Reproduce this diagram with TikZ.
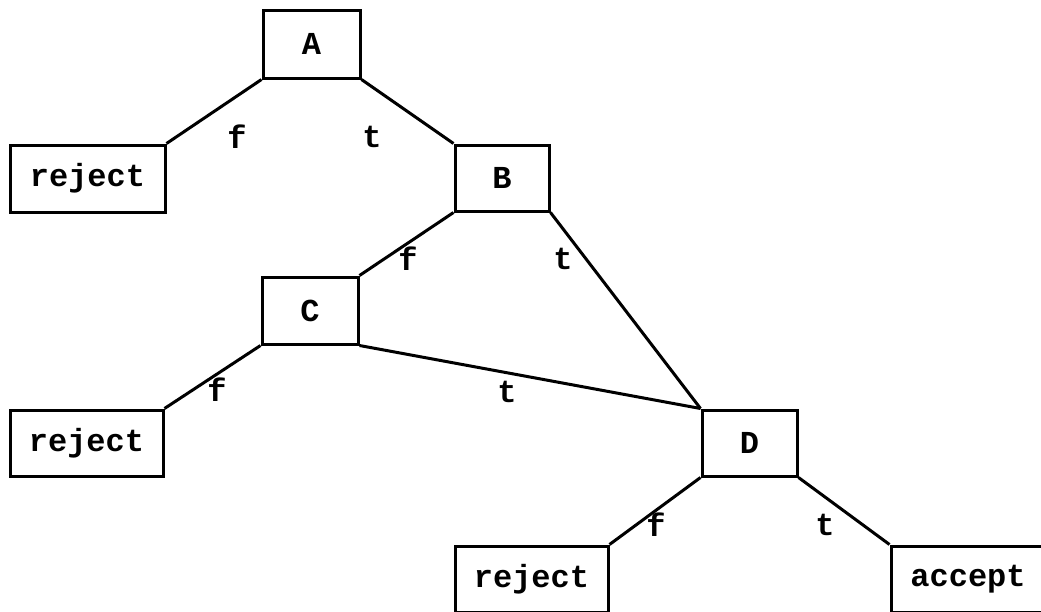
\documentclass[tikz,border=0pt]{standalone}
\usepackage{fontspec}
\setmonofont{Liberation Mono}
\begin{document}
\begin{tikzpicture}[x=1pt,y=-1pt,
  box/.style={draw,line width=3pt,rectangle,inner sep=0pt,font=\ttfamily\bfseries\fontsize{32}{32}\selectfont},
  edge/.style={line width=3pt},
  lbl/.style={font=\ttfamily\bfseries\fontsize{32}{32}\selectfont,inner sep=0pt}]
\useasboundingbox (0,0) rectangle (1041,611);
\node[box,minimum width=97pt,minimum height=68pt] (A) at (311.5,44) {A};
\node[box,minimum width=94pt,minimum height=66pt] (B) at (502,178) {B};
\node[box,minimum width=96pt,minimum height=67pt] (C) at (310,310.5) {C};
\node[box,minimum width=95pt,minimum height=66pt] (D) at (749.5,443) {D};
\node[box,minimum width=155pt,minimum height=67pt] (R1) at (87.5,178.5) {reject};
\node[box,minimum width=153pt,minimum height=66pt] (R2) at (86.5,443) {reject};
\node[box,minimum width=153pt,minimum height=66pt] (R3) at (531.5,579) {reject};
\node[box,minimum width=154pt,minimum height=66pt] (ACC) at (968,579) {accept};
\draw[edge] (A.south west) -- (R1.north east);
\draw[edge] (A.south east) -- (B.north west);
\draw[edge] (B.south west) -- (C.north east);
\draw[edge] (B.south east) -- (D.north west);
\draw[edge] (C.south east) -- (D.north west);
\draw[edge] (C.south west) -- (R2.north east);
\draw[edge] (D.south west) -- (R3.north east);
\draw[edge] (D.south east) -- (ACC.north west);
\node[lbl] (l1) at (237,137) {f};
\node[lbl] (l2) at (372,137) {t};
\node[lbl] (l3) at (408,259) {f};
\node[lbl] (l4) at (563,259) {t};
\node[lbl] (l5) at (217,390) {f};
\node[lbl] (l6) at (507,392) {t};
\node[lbl] (l7) at (656,525) {f};
\node[lbl] (l8) at (825,525) {t};
\end{tikzpicture}
\end{document}
